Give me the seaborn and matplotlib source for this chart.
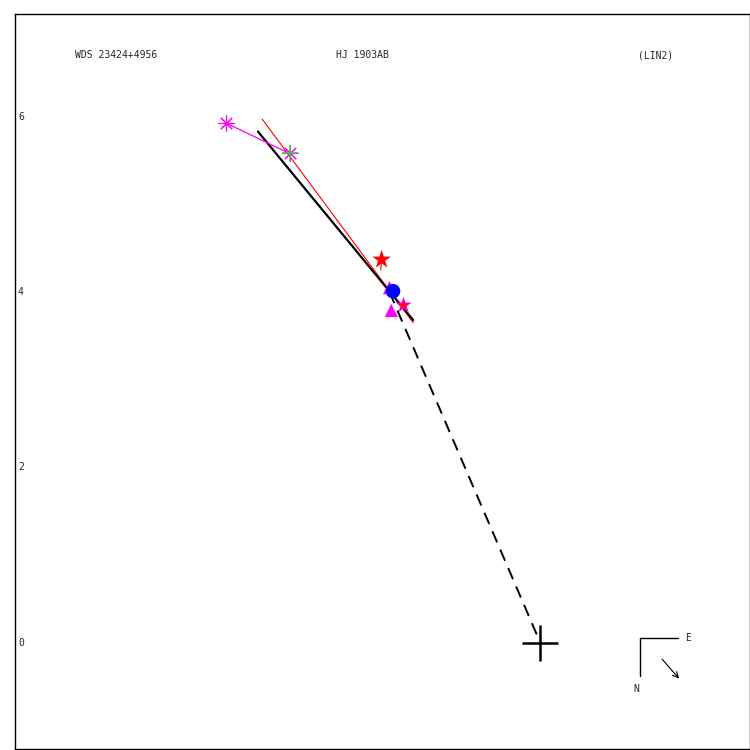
import matplotlib
matplotlib.use("Agg")
import matplotlib.pyplot as plt
import seaborn as sns
import pandas as pd

# Relative positions (arcsec); primary at the origin
early_x = [-3.59, -2.86]
early_y = [5.93, 5.58]

orbit_red_x = [-3.17, -1.45]
orbit_red_y = [5.97, 3.65]

orbit_black_x = [-3.22, -1.45]
orbit_black_y = [5.83, 3.68]

star_x = [-1.81]
star_y = [4.37]
circle_x = [-1.68]
circle_y = [4.01]
tri_x = [-1.72, -1.70]
tri_y = [4.05, 3.79]
mstar_x = [-1.56]
mstar_y = [3.85]

dash_x = [-1.72, 0.0]
dash_y = [4.0, 0.0]

ytick_vals = [0, 2, 4, 6]
titles = ["WDS 23424+4956", "HJ 1903AB", "(LIN2)"]

sns.set_style("white")
fig = plt.figure(figsize=(7.5, 7.5), dpi=100)
ax = fig.add_axes([0.02, 0.0013, 0.98, 0.98])

# orbit segments
ax.plot(orbit_red_x, orbit_red_y, color="red", lw=0.8)
ax.plot(orbit_black_x, orbit_black_y, color="black", lw=1.6)
ax.plot(early_x, early_y, color="magenta", lw=0.9)
ax.plot(dash_x, dash_y, color="black", lw=1.4, ls=(0, (6.2, 4.1)))
ax.plot([star_x[0], star_x[0] - 0.01], [star_y[0], star_y[0] - 0.12], color="red", lw=0.8)

# observations
early = pd.DataFrame({"x": early_x, "y": early_y})
sns.scatterplot(data=early, x="x", y="y", marker=(8, 2, 0), s=120,
                color="magenta", linewidth=0.8, ax=ax, zorder=4)
ax.plot(early_x[1], early_y[1], marker="+", ms=12, mew=1.2, color="limegreen", zorder=5)
sns.scatterplot(x=tri_x, y=tri_y, marker="^", s=90, color="magenta",
                edgecolor="none", ax=ax, zorder=4)
sns.scatterplot(x=circle_x, y=circle_y, marker="o", s=110, color="blue",
                edgecolor="none", ax=ax, zorder=5)
sns.scatterplot(x=star_x, y=star_y, marker="*", s=200, color="red",
                edgecolor="none", ax=ax, zorder=5)
sns.scatterplot(x=mstar_x, y=mstar_y, marker="*", s=160, color="magenta",
                edgecolor="none", ax=ax, zorder=5)
sns.scatterplot(x=mstar_x, y=mstar_y, marker="*", s=60, color="red",
                edgecolor="none", ax=ax, zorder=6)

# primary
ax.plot(0, 0, marker="+", ms=26, mew=1.8, color="black", zorder=6)

ax.set_xlim(-5.99, 2.39)
ax.set_ylim(-1.21, 7.17)
ax.set_aspect("equal")
ax.set_xticks([])
ax.set_yticks([])
ax.set_xlabel("")
ax.set_ylabel("")
for sp in ax.spines.values():
    sp.set_color("black")
    sp.set_linewidth(1)

mono = "DejaVu Sans Mono"
tr = ax.get_yaxis_transform()
for v in ytick_vals:
    ax.text(0.004, v, str(v), transform=tr, fontsize=7, family=mono,
            ha="left", va="center")

ax.text(0.082, 0.944, titles[0], transform=ax.transAxes, fontsize=7, family=mono, ha="left", va="center")
ax.text(0.473, 0.944, titles[1], transform=ax.transAxes, fontsize=7, family=mono, ha="center", va="center")
ax.text(0.872, 0.944, titles[2], transform=ax.transAxes, fontsize=7, family=mono, ha="center", va="center")

# compass
ax.plot([0.850, 0.902], [0.151, 0.151], color="black", lw=1, transform=ax.transAxes)
ax.plot([0.850, 0.850], [0.151, 0.099], color="black", lw=1, transform=ax.transAxes)
ax.text(0.916, 0.151, "E", transform=ax.transAxes, fontsize=7, family=mono, ha="center", va="center")
ax.text(0.846, 0.081, "N", transform=ax.transAxes, fontsize=7, family=mono, ha="center", va="center")
ax.annotate("", xy=(0.906, 0.093), xytext=(0.878, 0.125), xycoords="axes fraction",
            arrowprops=dict(arrowstyle="->", color="black", lw=0.8))

fig.savefig("out.png", dpi=100)
